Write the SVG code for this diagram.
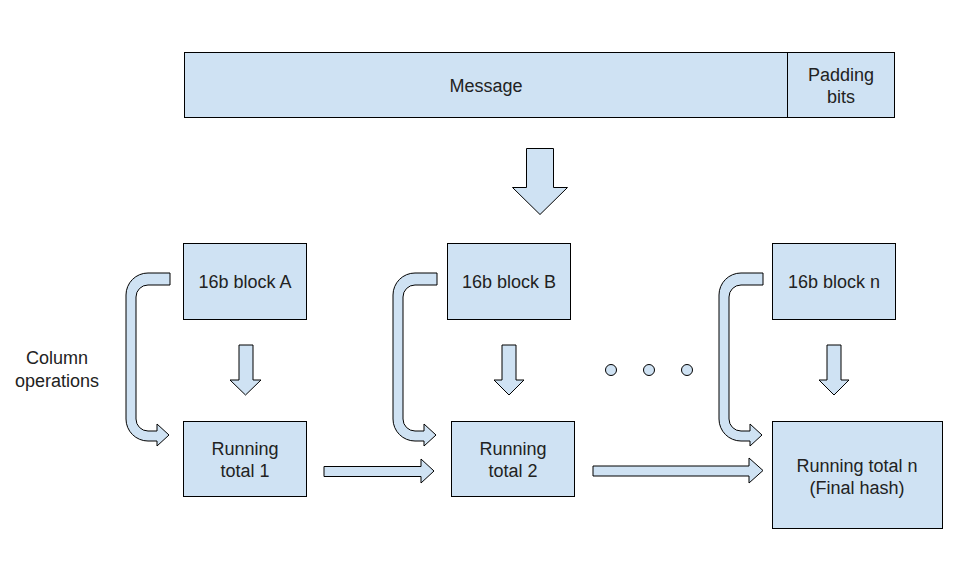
<svg xmlns="http://www.w3.org/2000/svg" width="960" height="564" viewBox="0 0 960 564">
<style>
.box{fill:#cfe2f3;stroke:#000;stroke-width:1}
.arr{fill:#cfe2f3;stroke:#000;stroke-width:1;stroke-linejoin:miter}
text{font-family:"Liberation Sans",Arial,sans-serif;font-size:18px;fill:#222;text-anchor:middle}
</style>
<defs>
<path id="curve" d="M170,273 H148 A22,22 0 0 0 126,295 V419 A22,22 0 0 0 148,441 H157 V446 L169,435 L157,424 V431 H148 A12,12 0 0 1 136,419 V297 A12,12 0 0 1 148,285 H170 Z"/>
</defs>
<rect width="960" height="564" fill="#fff"/>
<g id="message">
<rect class="box" x="184.5" y="52.5" width="603" height="65"/>
<text x="486" y="92">Message</text>
</g>
<g id="padding">
<rect class="box" x="787.5" y="52.5" width="107" height="65"/>
<text x="841" y="81">Padding</text>
<text x="841" y="103">bits</text>
</g>
<g id="blockA">
<rect class="box" x="183.5" y="243.5" width="123" height="76"/>
<text x="245" y="288">16b block A</text>
</g>
<g id="blockB">
<rect class="box" x="447.5" y="243.5" width="123" height="76"/>
<text x="509" y="288">16b block B</text>
</g>
<g id="blockN">
<rect class="box" x="772.5" y="243.5" width="123" height="76"/>
<text x="834" y="288">16b block n</text>
</g>
<g id="total1">
<rect class="box" x="183.5" y="421.5" width="123" height="75"/>
<text x="245" y="455">Running</text>
<text x="245" y="477">total 1</text>
</g>
<g id="total2">
<rect class="box" x="451.5" y="421.5" width="123" height="75"/>
<text x="513" y="455">Running</text>
<text x="513" y="477">total 2</text>
</g>
<g id="totalN">
<rect class="box" x="772.5" y="421.5" width="170" height="107"/>
<text x="857" y="472">Running total n</text>
<text x="857" y="494">(Final hash)</text>
</g>
<g id="columnOps">
<text x="57" y="364">Column</text>
<text x="57" y="387">operations</text>
</g>
<g id="dots" class="arr">
<circle cx="611" cy="370" r="5.5"/>
<circle cx="649" cy="370" r="5.5"/>
<circle cx="687" cy="370" r="5.5"/>
</g>
<g id="connectors">
<path class="arr" d="M526.5,148.5 H553.5 V187.5 H567.5 L540,214.5 L512.5,187.5 H526.5 Z"/>
<path class="arr" d="M239,345 H253 V380 H261 L245.5,395 L230,380 H239 Z"/>
<path class="arr" d="M502,345 H516 V380 H524 L509,395 L494,380 H502 Z"/>
<path class="arr" d="M827,345 H841 V380 H849 L834,395 L819,380 H827 Z"/>
<use href="#curve" class="arr"/>
<use href="#curve" class="arr" transform="translate(267,0)"/>
<use href="#curve" class="arr" transform="translate(593,0)"/>
<path class="arr" d="M324,466.5 H421 V459 L434,471 L421,483 V476.5 H324 Z"/>
<path class="arr" d="M593,466 H749 V458 L763,470.5 L749,483 V476 H593 Z"/>
</g>
</svg>
